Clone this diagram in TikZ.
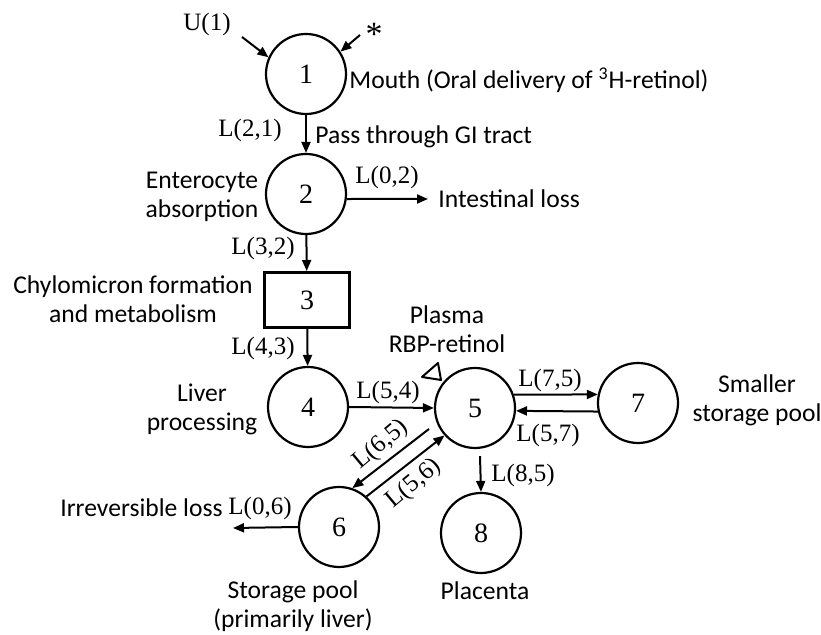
\documentclass[tikz,border=0pt]{standalone}
\usepackage{fontspec}
\setmainfont{Liberation Serif}
\newfontfamily\labelfont{Carlito}
\usetikzlibrary{arrows.meta, positioning}

\tikzset{
  pool/.style={draw, circle, line width=1.1pt, minimum size=40pt, inner sep=0pt, font=\fontsize{14}{16}\selectfont},
  flow/.style={line width=1pt, -{Triangle[length=5.5pt, width=4.5pt]}},
  rate/.style={font=\fontsize{12.5}{14}\selectfont, inner sep=1pt},
  note/.style={font=\labelfont\fontsize{12.8}{14.5}\selectfont, align=center, inner sep=1pt}
}

\begin{document}
\begin{tikzpicture}[x=0.5pt, y=-0.5pt]
\useasboundingbox (0,0) rectangle (821,635);

% Compartments
\node[pool] (c1) at (306,74) {1};
\node[pool] (c2) at (306,194) {2};
\node[draw, line width=1.5pt, minimum width=42.5pt, minimum height=27.5pt, inner sep=0pt,
  font=\fontsize{14}{16}\selectfont] (c3) at (307,300) {3};
\node[pool] (c4) at (308,407) {4};
\node[pool] (c5) at (475,408) {5};
\node[pool] (c6) at (339,527) {6};
\node[pool] (c7) at (638,403) {7};
\node[pool] (c8) at (481,533) {8};

% Inputs to the mouth
\node[rate] (u1) at (207,24) {U(1)};
\node[rate, font=\fontsize{17}{18}\selectfont] (star) at (374,34) {*};
\coordinate (u1end) at (242,37);
\coordinate (starend) at (360,35);
\draw[flow] (u1end) -- (c1.156);
\draw[flow] (starend) -- (c1.33);

% Descriptions
\node[note, anchor=west] (mouth) at (347,80) {Mouth (Oral delivery of \textsuperscript{3}H-retinol)};
\node[note, anchor=west] (gi) at (313,137) {Pass through GI tract};
\node[note] (entero) at (202,197) {Enterocyte\\absorption};
\node[note, anchor=west] (intloss) at (436,199) {Intestinal loss};
\node[note] (chylo) at (133,299) {Chylomicron formation\\and metabolism};
\node[note] (liver) at (202,409) {Liver\\processing};
\node[note] (plasma) at (447,329) {Plasma\\RBP-retinol};
\node[note] (smaller) at (757,400) {Smaller\\storage pool};
\node[note, anchor=east] (irrev) at (225,508) {Irreversible loss};
\node[note] (storage) at (293,606) {Storage pool\\(primarily liver)};
\node[note] (placenta) at (485,591) {Placenta};

% Sampling marker
\draw[line width=1pt, line join=round] (438,363) -- (422,377) -- (441,380) -- cycle;

% Main path
\draw[flow] (c1) -- (c2);
\draw[flow] (c2) -- (c3);
\draw[flow] (c3) -- (c4);
\draw[flow] (c4.east) -- (c5.west);
\coordinate (intend) at (428,199);
\draw[flow] (c2.-7) -- (intend);

% Exchange with pools
\draw[flow] (c5.19) -- (c7.168);
\draw[flow] (c7.192) -- (c5.-4);
\coordinate (p65) at (429,429);
\draw[flow] (p65) -- (c6.71);
\draw[flow] (c6.48) -- (c5.222);
\draw[flow] ([shift={(5,7)}]c5.south) -- (c8.north);
\coordinate (lossend) at (233,528);
\draw[flow] (c6.west) -- (lossend);

% Rate labels
\node[rate] (l21) at (250,130) {L(2,1)};
\node[rate] (l02) at (387,177) {L(0,2)};
\node[rate] (l32) at (263,248) {L(3,2)};
\node[rate] (l43) at (263,348) {L(4,3)};
\node[rate] (l54) at (388,392) {L(5,4)};
\node[rate] (l75) at (550,380) {L(7,5)};
\node[rate] (l57) at (548,435) {L(5,7)};
\node[rate] (l85) at (523,475) {L(8,5)};
\node[rate, rotate=40] (l65) at (381,445) {L(6,5)};
\node[rate, rotate=40] (l56) at (414,484) {L(5,6)};
\node[rate] (l06) at (260,508) {L(0,6)};

\end{tikzpicture}
\end{document}
